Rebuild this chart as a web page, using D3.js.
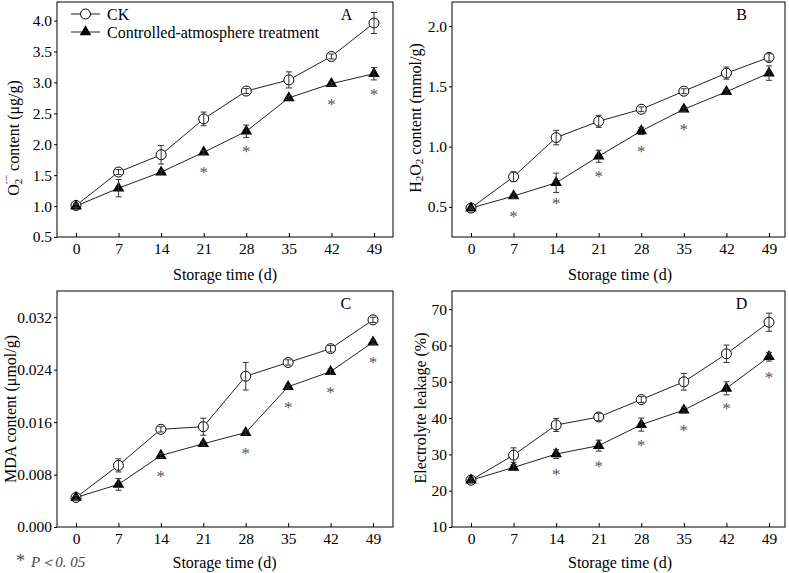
<!DOCTYPE html>
<html>
<head>
<meta charset="utf-8">
<script src="https://cdn.jsdelivr.net/npm/d3@7"></script>
<style>
  body { margin: 0; background: #fff; }
  svg { display: block; font-family: "Liberation Serif", "Times New Roman", serif; }
</style>
</head>
<body>
<svg id="chart" width="789" height="573"></svg>
<script>
"use strict";

// ─── Data ─────────────────────────────────────────────────────────────────────
const days = [0, 7, 14, 21, 28, 35, 42, 49];

// A: superoxide anion
const o2CK     = [1.01, 1.55, 1.83, 2.41, 2.86, 3.04, 3.42, 3.96];
const o2CKErr  = [0.03, 0.04, 0.15, 0.11, 0.04, 0.13, 0.04, 0.17];
const o2CA     = [1.00, 1.29, 1.55, 1.87, 2.21, 2.75, 2.98, 3.14];
const o2CAErr  = [0.03, 0.14, 0.03, 0.03, 0.10, 0.03, 0.03, 0.10];
const o2Sig    = [21, 28, 42, 49];

// B: hydrogen peroxide
const h2o2CK    = [0.49, 0.75, 1.075, 1.21, 1.31, 1.46, 1.61, 1.74];
const h2o2CKErr = [0.01, 0.04, 0.06, 0.05, 0.02, 0.02, 0.05, 0.03];
const h2o2CA    = [0.49, 0.59, 0.70, 0.92, 1.13, 1.31, 1.455, 1.61];
const h2o2CAErr = [0.01, 0.02, 0.08, 0.05, 0.03, 0.02, 0.02, 0.06];
const h2o2Sig   = [7, 14, 21, 28, 35];

// C: malondialdehyde
const mdaCK    = [0.0045, 0.0094, 0.0149, 0.0153, 0.0230, 0.0251, 0.0272, 0.0316];
const mdaCKErr = [0.0003, 0.0010, 0.0004, 0.0013, 0.0021, 0.0004, 0.0005, 0.0004];
const mdaCA    = [0.0045, 0.0065, 0.0109, 0.0127, 0.0144, 0.0214, 0.0237, 0.0282];
const mdaCAErr = [0.0003, 0.0009, 0.0003, 0.0003, 0.0003, 0.0003, 0.0004, 0.0003];
const mdaSig   = [14, 28, 35, 42, 49];

// D: electrolyte leakage
const elCK    = [22.9, 29.8, 38.1, 40.3, 45.1, 50.0, 57.7, 66.4];
const elCKErr = [0.5, 2.0, 1.8, 1.0, 0.8, 2.3, 2.4, 2.5];
const elCA    = [22.9, 26.4, 30.1, 32.4, 38.2, 42.2, 48.2, 56.9];
const elCAErr = [0.5, 0.8, 1.2, 1.5, 1.8, 0.8, 1.8, 1.2];
const elSig   = [14, 21, 28, 35, 42, 49];

const seriesNames = ["CK", "Controlled-atmosphere treatment"];

// ─── Layout ───────────────────────────────────────────────────────────────────
const FONT = '"Liberation Serif", "Times New Roman", serif';
const TICK_FS = 15.5;
const svg = d3.select("#chart");

const panels = [
  { letter: "A", box: [57, 2, 393, 237], xr: [76, 374], yDomain: [0.5, 4.3],
    yTicks: [0.5, 1.0, 1.5, 2.0, 2.5, 3.0, 3.5, 4.0], fmt: ".1f",
    ck: o2CK, ckErr: o2CKErr, ca: o2CA, caErr: o2CAErr, sig: o2Sig,
    labelX: 13, labelY: 138, titleDy: 43, legend: true, label: "o2" },
  { letter: "B", box: [452, 2, 785, 237], xr: [471, 769], yDomain: [0.25, 2.2],
    yTicks: [0.5, 1.0, 1.5, 2.0], fmt: ".1f",
    ck: h2o2CK, ckErr: h2o2CKErr, ca: h2o2CA, caErr: h2o2CAErr, sig: h2o2Sig,
    labelX: 415, labelY: 118, titleDy: 43, label: "h2o2" },
  { letter: "C", box: [57, 291, 393, 527], xr: [76, 373], yDomain: [0, 0.036],
    yTicks: [0, 0.008, 0.016, 0.024, 0.032], fmt: ".3f",
    ck: mdaCK, ckErr: mdaCKErr, ca: mdaCA, caErr: mdaCAErr, sig: mdaSig,
    labelX: 10, labelY: 409, titleDy: 41, label: "MDA content (μmol/g)" },
  { letter: "D", box: [452, 291, 785, 527], xr: [471, 769], yDomain: [10, 75],
    yTicks: [10, 20, 30, 40, 50, 60, 70], fmt: "d",
    ck: elCK, ckErr: elCKErr, ca: elCA, caErr: elCAErr, sig: elSig,
    labelX: 420, labelY: 408, titleDy: 41, label: "Electrolyte leakage (%)" },
];

function yLabel(g, p) {
  const t = g.append("text")
    .attr("transform", `translate(${p.labelX},${p.labelY}) rotate(-90)`)
    .attr("text-anchor", "middle")
    .attr("dominant-baseline", "central")
    .attr("font-size", 16);
  if (p.label === "o2") {
    t.append("tspan").text("O");
    t.append("tspan").attr("font-size", 11).attr("dy", 5).text("2");
    t.append("tspan").attr("font-size", 11).attr("dx", -6).attr("dy", -12).text("·−");
    t.append("tspan").attr("dy", 7).text(" content (μg/g)");
  } else if (p.label === "h2o2") {
    t.append("tspan").text("H");
    t.append("tspan").attr("font-size", 11).attr("dy", 4).text("2");
    t.append("tspan").attr("dy", -4).text("O");
    t.append("tspan").attr("font-size", 11).attr("dy", 4).text("2");
    t.append("tspan").attr("dy", -4).text(" content (mmol/g)");
  } else {
    t.text(p.label);
  }
}

function drawPanel(p) {
  const [l, t, r, b] = p.box;
  const g = svg.append("g").attr("class", "panel");
  const x = d3.scaleLinear().domain([0, 49]).range(p.xr);
  const y = d3.scaleLinear().domain(p.yDomain).range([b, t]);

  // x axis: ticks point inward
  const xa = g.append("g")
    .attr("transform", `translate(0,${b})`)
    .call(d3.axisBottom(x).tickValues(days).tickSize(-4).tickPadding(6).tickSizeOuter(0));
  xa.select(".domain").remove();
  xa.attr("font-family", FONT).attr("font-size", TICK_FS);

  // y axis: ticks point outward
  const ya = g.append("g")
    .attr("transform", `translate(${l},0)`)
    .call(d3.axisLeft(y).tickValues(p.yTicks).tickFormat(d3.format(p.fmt))
      .tickSize(3).tickPadding(2).tickSizeOuter(0));
  ya.select(".domain").remove();
  ya.attr("font-family", FONT).attr("font-size", TICK_FS);

  g.append("rect")
    .attr("x", l).attr("y", t).attr("width", r - l).attr("height", b - t)
    .attr("fill", "none").attr("stroke", "#000").attr("stroke-width", 1);

  // axis titles
  g.append("text")
    .attr("x", (p.xr[0] + p.xr[1]) / 2).attr("y", b + p.titleDy)
    .attr("text-anchor", "middle").attr("font-size", 16)
    .text("Storage time (d)");
  yLabel(g, p);

  g.append("text")
    .attr("x", x(44.5)).attr("y", t + 12)
    .attr("text-anchor", "middle").attr("dominant-baseline", "central")
    .attr("font-size", 16).text(p.letter);

  const line = d3.line().x((d, i) => x(days[i])).y(d => y(d));
  [p.ck, p.ca].forEach(vals => {
    g.append("path").datum(vals).attr("d", line)
      .attr("fill", "none").attr("stroke", "#222").attr("stroke-width", 1);
  });

  // markers
  g.selectAll("circle.ck").data(p.ck).join("circle").attr("class", "ck")
    .attr("cx", (d, i) => x(days[i])).attr("cy", d => y(d)).attr("r", 5)
    .attr("fill", "#fff").attr("stroke", "#000").attr("stroke-width", 1);
  const tri = d3.symbol(d3.symbolTriangle, 58);
  g.selectAll("path.ca").data(p.ca).join("path").attr("class", "ca")
    .attr("d", tri)
    .attr("transform", (d, i) => `translate(${x(days[i])},${y(d)})`)
    .attr("fill", "#000");

  // error bars on top
  const errs = [[p.ck, p.ckErr], [p.ca, p.caErr]];
  errs.forEach(([vals, e]) => {
    vals.forEach((v, i) => {
      const cx = x(days[i]);
      const y0 = y(v - e[i]), y1 = y(v + e[i]);
      const eb = g.append("g").attr("stroke", "#333").attr("stroke-width", 1);
      eb.append("line").attr("x1", cx).attr("x2", cx).attr("y1", y0).attr("y2", y1);
      eb.append("line").attr("x1", cx - 3).attr("x2", cx + 3).attr("y1", y0).attr("y2", y0);
      eb.append("line").attr("x1", cx - 3).attr("x2", cx + 3).attr("y1", y1).attr("y2", y1);
    });
  });

  // significance stars
  g.selectAll("text.sig").data(p.sig).join("text").attr("class", "sig")
    .attr("x", d => x(d))
    .attr("y", d => y(p.ca[days.indexOf(d)]) + 26)
    .attr("text-anchor", "middle").attr("font-size", 17).attr("fill", "#555")
    .text("*");

  if (p.legend) {
    const rows = [0, 1];
    rows.forEach(k => {
      const ly = t + 12 + k * 18;
      g.append("line").attr("x1", 71).attr("x2", 100).attr("y1", ly).attr("y2", ly)
        .attr("stroke", "#222");
      if (k === 0) {
        g.append("circle").attr("cx", 85.5).attr("cy", ly).attr("r", 5)
          .attr("fill", "#fff").attr("stroke", "#000");
      } else {
        g.append("path").attr("d", tri).attr("transform", `translate(85.5,${ly})`)
          .attr("fill", "#000");
      }
      g.append("text").attr("x", 107).attr("y", ly)
        .attr("dominant-baseline", "central").attr("font-size", 16)
        .text(seriesNames[k]);
    });
  }
}

panels.forEach(drawPanel);

// footnote
const foot = svg.append("text").attr("x", 16).attr("y", 567)
  .attr("font-size", 15).attr("fill", "#444");
foot.append("tspan").attr("font-size", 18).text("*");
foot.append("tspan").attr("dx", 6).attr("font-style", "italic").text("P＜0. 05");
</script>
</body>
</html>
